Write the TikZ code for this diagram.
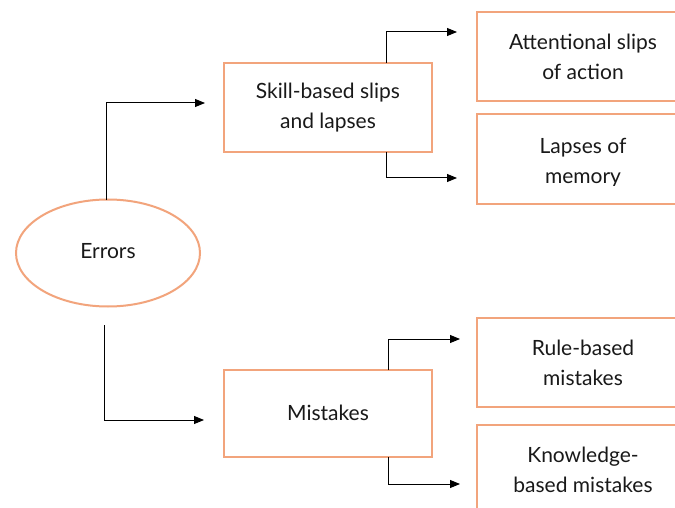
\documentclass[tikz,border=0pt]{standalone}
\usepackage{fontspec}
\setmainfont{Lato}
\usetikzlibrary{shapes.geometric,arrows.meta,calc}
\definecolor{peach}{RGB}{242,164,124}
\tikzset{
  box/.style={draw=peach,line width=2pt,rectangle,minimum width=208pt,inner sep=0pt},
  rbox/.style={draw=peach,line width=2pt,rectangle,minimum width=212pt,minimum height=89pt,inner sep=0pt},
  ell/.style={draw=peach,line width=2pt,ellipse,minimum width=184pt,minimum height=107pt,inner sep=0pt},
  txt/.style={align=center,font=\fontsize{21}{30}\selectfont,text=black!90},
  conn/.style={draw=black,line width=1pt,-{Triangle[length=10pt,width=8pt]}}
}
\begin{document}
\begin{tikzpicture}[x=1pt,y=-1pt]
\clip (0,0) rectangle (675,508);
\fill[white] (0,0) rectangle (675,508);
\node[ell,txt] (err) at (108,253) {\raisebox{4pt}{Errors}};
\node[box,minimum height=89pt,txt] (sb) at (328,107.5) {\raisebox{-2pt}{Skill-based slips}\\\raisebox{-2pt}{and lapses}};
\node[box,minimum height=87pt,txt] (mi) at (328,413.5) {\raisebox{1pt}{Mistakes}};
\node[rbox,txt] (at) at (583,56.5) {Attentional slips\\of action};
\node[rbox] (la) at (583,159) {};
\begin{scope}
\clip (478,116) rectangle (676,186);
\node[txt] (lat) at (583,163) {Lapses of\\memory};
\end{scope}
\node[rbox,txt] (ru) at (583,362.5) {Rule-based\\mistakes};
\node[rbox,txt] (kn) at (583,469.5) {Knowledge-\\based mistakes};
% connectors
\coordinate (e1) at (106,200);
\coordinate (a1) at (205,103);
\draw[conn] (e1) |- (a1);
\coordinate (e2) at (104,325);
\coordinate (a2) at (204,420);
\draw[conn] (e2) |- (a2);
\coordinate (s1) at (386,63);
\coordinate (t1) at (457,32);
\draw[conn] (s1) |- (t1);
\coordinate (s2) at (386,152);
\coordinate (t2) at (457,178);
\draw[conn] (s2) |- (t2);
\coordinate (m1) at (388,370);
\coordinate (t3) at (460,339);
\draw[conn] (m1) |- (t3);
\coordinate (m2) at (388,457);
\coordinate (t4) at (460,484);
\draw[conn] (m2) |- (t4);
\end{tikzpicture}
\end{document}
